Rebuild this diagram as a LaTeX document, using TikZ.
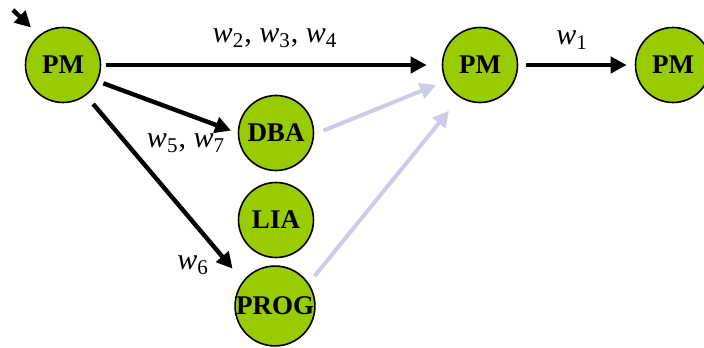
\RequirePackage{fix-cm}
\documentclass[tikz,border=0pt]{standalone}
\usepackage{fontspec}
\setmainfont{Liberation Serif}
\usepackage{xcolor}
\usepackage{tikz}
\usetikzlibrary{arrows.meta}

\definecolor{rolegreen}{RGB}{153,204,0}
\definecolor{fadeblue}{RGB}{204,204,230}

% italic w with a subscript, as in the figure
\newcommand{\wsub}[1]{\textit{w}\textsubscript{#1}}

\begin{document}
\begin{tikzpicture}[x=0.5pt, y=-0.5pt, >={Triangle[length=8pt,width=8pt]},
    role/.style={circle, draw, line width=0.8pt, fill=rolegreen, minimum size=37.5pt,
        inner sep=0pt, font=\fontsize{13.5}{15}\selectfont\bfseries},
    flow/.style={->, line width=2.2pt},
    ghost/.style={->, line width=2pt, fadeblue},
    wlabel/.style={font=\fontsize{15}{17}\selectfont}]
    \useasboundingbox (0,0) rectangle (704,347);

    % Roles
    \node[role] (pm1) at (63,65) {PM};
    \node[role] (dba) at (276,133) {DBA};
    \node[role] (lia) at (276,220) {LIA};
    \node[role] (prog) at (275,306) {PROG};
    \node[role] (pm2) at (480,65) {PM};
    \node[role] (pm3) at (673,65) {PM};
    \coordinate (entry) at (13,10);

    % Work items handed on
    \draw[flow, shorten >=5.5pt] (entry) -- (pm1.129);
    \draw[flow, shorten <=2.5pt, shorten >=7.5pt] (pm1.east) -- (pm2.west);
    \draw[flow, shorten <=3pt, shorten >=3.5pt] (pm1.-25) -- (dba.180);
    \draw[flow, shorten <=5.5pt, shorten >=8pt] (pm1.-53) -- (prog.142);
    \draw[flow, shorten <=4pt, shorten >=4pt] (pm2.east) -- (pm3.west);

    % Returns
    \draw[ghost, shorten <=5pt, shorten >=5pt] (dba.-2) -- (pm2.205);
    \draw[ghost, shorten <=4.5pt, shorten >=8.5pt] (prog.34) -- (pm2.238);

    % Labels
    \node[wlabel] (w234) at (275,38) {\wsub{2}, \wsub{3}, \wsub{4}};
    \node[wlabel] (w1) at (572,40) {\wsub{1}};
    \node[wlabel] (w57) at (186,143) {\wsub{5}, \wsub{7}};
    \node[wlabel] (w6) at (193,265) {\wsub{6}};
\end{tikzpicture}
\end{document}
